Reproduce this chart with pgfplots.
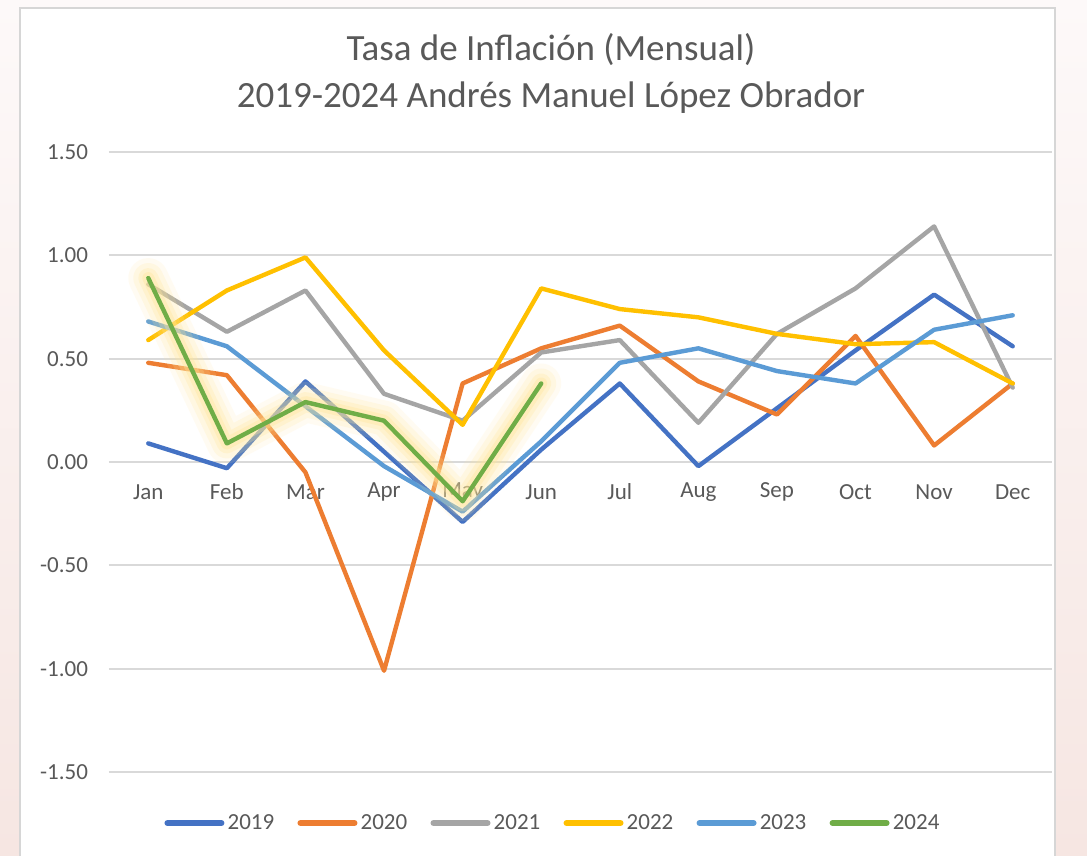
\documentclass[border=0pt]{standalone}
\usepackage{pgfplots}
\pgfplotsset{compat=1.18}
\usepackage{pgfplotstable}
\usepackage{fontspec}
\setmainfont{Carlito}
\definecolor{c19}{HTML}{4472C4}
\definecolor{c20}{HTML}{ED7D31}
\definecolor{c21}{HTML}{A5A5A5}
\definecolor{c22}{HTML}{FFC000}
\definecolor{c23}{HTML}{5B9BD5}
\definecolor{c24}{HTML}{70AD47}
\definecolor{glow}{HTML}{FFE699}
\definecolor{txt}{HTML}{595959}
\definecolor{gridgray}{HTML}{D9D9D9}
\definecolor{framegray}{HTML}{D6D6D6}
\definecolor{bgtop}{HTML}{FDF9F9}
\definecolor{bgbot}{HTML}{F6E6E2}

\pgfplotstableread{
x y
0 0.89
1 0.09
2 0.29
3 0.20
4 -0.19
5 0.38
}\dataA

\begin{document}
\begin{tikzpicture}
\useasboundingbox (0,0) rectangle (543.5pt,-428pt);
\clip (0,0) rectangle (543.5pt,-428pt);
\shade[top color=bgtop,bottom color=bgbot] (0,0) rectangle (543.5pt,-428pt);
\draw[draw=framegray, fill=white, line width=0.8pt] (10pt,-4pt) rectangle (527.5pt,-440pt);
\node[align=center, text=txt, font=\fontsize{18.5}{23.5}\selectfont] at (275.5pt,-36.75pt)
  {Tasa de Inflación (Mensual)\\2019-2024 Andrés Manuel López Obrador};
\begin{axis}[
  at={(54.5pt,-386pt)}, anchor=south west,
  scale only axis, width=471.5pt, height=310pt,
  xmin=-0.5, xmax=11.5, ymin=-1.5, ymax=1.5,
  ytick={-1.5,-1,-0.5,0,0.5,1,1.5},
  xtick={0,1,2,3,4,5,6,7,8,9,10,11},
  xticklabels={Jan,Feb,Mar,Apr,May,Jun,Jul,Aug,Sep,Oct,Nov,Dec},
  axis line style={draw=none},
  tick style={draw=none},
  ymajorgrids,
  grid style={gridgray, line width=1pt},
  /pgf/number format/assume math mode=true,
  /pgf/number format/.cd, fixed, fixed zerofill, precision=2, /pgfplots/.cd,
  ticklabel style={font=\fontsize{11.5}{13}\selectfont, text=txt},
  yticklabel style={anchor=east, xshift=-7pt},
  xticklabel style={anchor=center, yshift=140pt},
  legend columns=6,
  legend style={at={(0.4714,-0.0823)}, anchor=center, draw=none, fill=none,
    font=\fontsize{11.5}{13}\selectfont, text=txt,
    /tikz/every even column/.append style={column sep=10pt},
    nodes={inner xsep=1.6pt}},
  legend image code/.code={\draw[#1, line cap=round, line width=3pt] (0pt,0pt) -- (27pt,0pt);},
  every axis plot/.append style={line width=2.2pt, line join=round, line cap=round},
]
\addplot[c19] coordinates {(0,0.09)(1,-0.03)(2,0.39)(3,0.05)(4,-0.29)(5,0.06)(6,0.38)(7,-0.02)(8,0.26)(9,0.54)(10,0.81)(11,0.56)};
\addlegendentry{2019}
\addplot[c20] coordinates {(0,0.48)(1,0.42)(2,-0.05)(3,-1.01)(4,0.38)(5,0.55)(6,0.66)(7,0.39)(8,0.23)(9,0.61)(10,0.08)(11,0.38)};
\addlegendentry{2020}
\addplot[c21] coordinates {(0,0.86)(1,0.63)(2,0.83)(3,0.33)(4,0.20)(5,0.53)(6,0.59)(7,0.19)(8,0.62)(9,0.84)(10,1.14)(11,0.36)};
\addlegendentry{2021}
\addplot[c22] coordinates {(0,0.59)(1,0.83)(2,0.99)(3,0.54)(4,0.18)(5,0.84)(6,0.74)(7,0.70)(8,0.62)(9,0.57)(10,0.58)(11,0.38)};
\addlegendentry{2022}
\addplot[c23] coordinates {(0,0.68)(1,0.56)(2,0.27)(3,-0.02)(4,-0.24)(5,0.10)(6,0.48)(7,0.55)(8,0.44)(9,0.38)(10,0.64)(11,0.71)};
\addlegendentry{2023}
\addplot[forget plot, glow, opacity=0.12, line width=20pt] table {\dataA};
\addplot[forget plot, glow, opacity=0.18, line width=15pt] table {\dataA};
\addplot[forget plot, glow, opacity=0.25, line width=10pt] table {\dataA};
\addplot[forget plot, glow, opacity=0.35, line width=6pt] table {\dataA};
\addplot[c24] table {\dataA};
\addlegendentry{2024}
\end{axis}
\end{tikzpicture}
\end{document}
